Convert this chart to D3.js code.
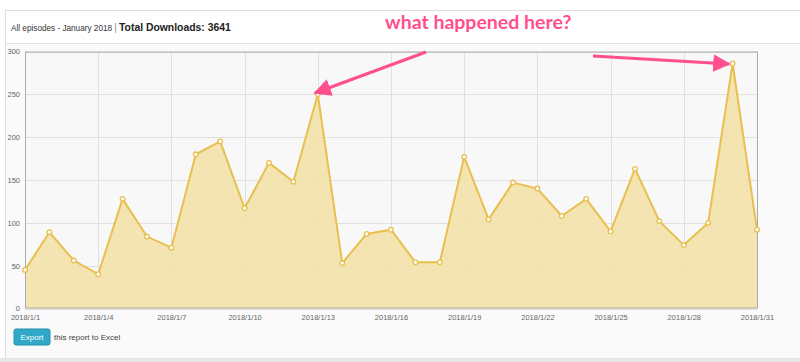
<!DOCTYPE html>
<html><head><meta charset="utf-8">
<script src="https://cdn.jsdelivr.net/npm/d3@7"></script>
<style>
html,body{margin:0;padding:0;background:#fff;}
svg{display:block;font-family:"Liberation Sans",Arial,sans-serif;}
</style></head>
<body>
<svg id="c" width="800" height="362"></svg>
<script>
const days = d3.range(1, 32);
const downloads = [45,89,56,40,128,84,71,180,195,117,170,148,250,53,87,92,54,54,177,104,147,140,108,128,90,163,102,74,100,286,92];
const xTickDays = [1,4,7,10,13,16,19,22,25,28,31];
const yTicks = [0,50,100,150,200,250,300];
const headerLeft = "All episodes - January 2018";
const headerTotal = "Total Downloads: 3641";
const note = "what happened here?";

const svg = d3.select("#c");
// panel
svg.append("rect").attr("x",5.5).attr("y",10.5).attr("width",800).attr("height",350)
  .attr("fill","#fafafa").attr("stroke","#ddd");
svg.append("rect").attr("x",6).attr("y",11).attr("width",800).attr("height",32).attr("fill","#fff");
svg.append("line").attr("x1",5).attr("x2",800).attr("y1",43.5).attr("y2",43.5).attr("stroke","#e3e3e3");
// shadow at bottom
svg.append("rect").attr("x",0).attr("y",358).attr("width",800).attr("height",4).attr("fill","#e6e6e6");

svg.append("text").attr("x",11).attr("y",31).attr("font-size",8.2).attr("fill","#333").text(headerLeft);
svg.append("text").attr("x",114).attr("y",31).attr("font-size",11).attr("fill","#999").text("|");
svg.append("text").attr("x",119).attr("y",31).attr("font-size",10.4).attr("font-weight","bold").attr("fill","#222").text(headerTotal);

const m = {l:25, r:757, t:51.5, b:308.5};
const x = d3.scaleLinear().domain([1,31]).range([m.l, m.r]);
const y = d3.scaleLinear().domain([0,300]).range([m.b, m.t]);

svg.append("rect").attr("x",m.l).attr("y",m.t).attr("width",m.r-m.l).attr("height",m.b-m.t).attr("fill","#f8f8f8");

// grid
svg.append("g").selectAll("line").data(yTicks).join("line")
  .attr("x1",m.l).attr("x2",m.r).attr("y1",d=>Math.round(y(d))+0.5).attr("y2",d=>Math.round(y(d))+0.5)
  .attr("stroke","#e0e0e0");
svg.append("g").selectAll("line").data(xTickDays).join("line")
  .attr("y1",m.t).attr("y2",m.b).attr("x1",d=>Math.round(x(d))+0.5).attr("x2",d=>Math.round(x(d))+0.5)
  .attr("stroke","#e0e0e0");

const data = days.map((d,i)=>({d, v:downloads[i]}));
svg.append("path").datum(data)
  .attr("d", d3.area().x(p=>x(p.d)).y0(y(0)).y1(p=>y(p.v)))
  .attr("fill","#f3e0a6").attr("fill-opacity",0.85);
svg.append("path").datum(data)
  .attr("d", d3.line().x(p=>x(p.d)).y(p=>y(p.v)))
  .attr("fill","none").attr("stroke","#e8c04f").attr("stroke-width",2);

// border
svg.append("rect").attr("x",m.l+0.5).attr("y",m.t+0.5).attr("width",m.r-m.l).attr("height",m.b-m.t-1)
  .attr("fill","none").attr("stroke","#aaa");

svg.append("g").selectAll("circle").data(data).join("circle")
  .attr("cx",p=>x(p.d)).attr("cy",p=>y(p.v)).attr("r",2.3)
  .attr("fill","#fff").attr("stroke","#e8c04f").attr("stroke-width",1.3);

// axes labels
const yAxis = d3.axisLeft(y).tickValues(yTicks).tickSize(0).tickPadding(5);
const gy = svg.append("g").attr("transform",`translate(${m.l},0)`).call(yAxis);
gy.select(".domain").remove();
gy.selectAll("text").attr("font-size",7.5).attr("fill","#666").attr("font-family","Liberation Sans, Arial, sans-serif");

const xAxis = d3.axisBottom(x).tickValues(xTickDays).tickSize(0).tickPadding(6).tickFormat(d=>"2018/1/"+d);
const gx = svg.append("g").attr("transform",`translate(0,${m.b})`).call(xAxis);
gx.select(".domain").remove();
gx.selectAll("text").attr("font-size",7.5).attr("fill","#666").attr("font-family","Liberation Sans, Arial, sans-serif");

// export button
svg.append("rect").attr("x",14).attr("y",329).attr("width",36).attr("height",16).attr("rx",2)
  .attr("fill","#30a9c8").attr("stroke","#2590ad");
svg.append("text").attr("x",32).attr("y",340).attr("text-anchor","middle").attr("font-size",8).attr("fill","#fff").text("Export");
svg.append("text").attr("x",54).attr("y",340).attr("font-size",8).attr("fill","#444").text("this report to Excel");

// annotation
const pink = "#ff4f8e";
svg.append("defs").append("marker").attr("id","ah").attr("viewBox","0 0 10 10").attr("refX",9).attr("refY",5)
  .attr("markerWidth",5.5).attr("markerHeight",5.5).attr("markerUnits","strokeWidth").attr("orient","auto")
  .append("path").attr("d","M0,0 L10,5 L0,10 z").attr("fill",pink);
svg.append("text").attr("x",385).attr("y",29).attr("font-size",19.5).attr("font-weight","bold")
  .attr("font-family","Lato, 'Open Sans', sans-serif")
  .attr("fill",pink).attr("stroke","#fff").attr("stroke-width",3).attr("paint-order","stroke").text(note);
svg.append("line").attr("x1",426).attr("y1",52).attr("x2",315).attr("y2",93)
  .attr("stroke",pink).attr("stroke-width",3.2).attr("marker-end","url(#ah)");
svg.append("line").attr("x1",593).attr("y1",56).attr("x2",729).attr("y2",64)
  .attr("stroke",pink).attr("stroke-width",3.2).attr("marker-end","url(#ah)");
</script>
</body></html>
